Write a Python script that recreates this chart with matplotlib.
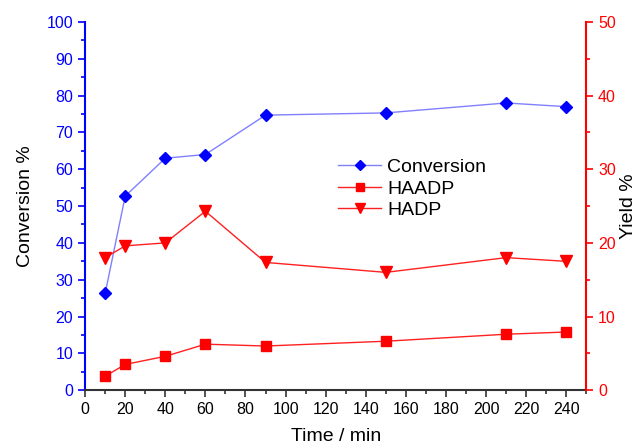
import matplotlib
matplotlib.use('Agg')
import matplotlib.pyplot as plt
from matplotlib.ticker import MultipleLocator

plt.rcParams['font.family'] = ['Liberation Sans', 'DejaVu Sans']

# data
time_min = [10, 20, 40, 60, 90, 150, 210, 240]
conversion = [26.3, 52.7, 63.0, 64.0, 74.7, 75.3, 78.0, 77.0]
haadp_yield = [1.9, 3.5, 4.6, 6.25, 6.0, 6.65, 7.6, 7.9]
hadp_yield = [18.0, 19.6, 20.0, 24.3, 17.35, 16.0, 18.0, 17.5]

fig = plt.figure(figsize=(6.4, 4.48), dpi=100)
ax = fig.add_axes([0.133, 0.129, 0.783, 0.822])
ax2 = ax.twinx()

l1, = ax.plot(time_min, conversion, color='#8080ff', lw=1.0,
              marker='D', markersize=6.5, markerfacecolor='#0000ff',
              markeredgecolor='#0000ff', label='Conversion', zorder=3)
l2, = ax2.plot(time_min, haadp_yield, color='#ff2020', lw=1.0,
               marker='s', markersize=6.5, markerfacecolor='#ff0000',
               markeredgecolor='#ff0000', label='HAADP')
l3, = ax2.plot(time_min, hadp_yield, color='#ff2020', lw=1.0,
               marker='v', markersize=8, markerfacecolor='#ff0000',
               markeredgecolor='#ff0000', label='HADP')

ax.set_xlim(0, 250)
ax.set_ylim(0, 100)
ax2.set_ylim(0, 50)

ax.xaxis.set_major_locator(MultipleLocator(20))
ax.xaxis.set_minor_locator(MultipleLocator(10))
ax.yaxis.set_major_locator(MultipleLocator(10))
ax.yaxis.set_minor_locator(MultipleLocator(5))
ax2.yaxis.set_major_locator(MultipleLocator(10))
ax2.yaxis.set_minor_locator(MultipleLocator(5))

# spines
for a in (ax, ax2):
    a.spines['top'].set_visible(False)
ax.spines['left'].set_color('#0000ff')
ax.spines['left'].set_linewidth(1.5)
ax.spines['bottom'].set_color('#333333')
ax.spines['bottom'].set_linewidth(1.5)
ax.spines['right'].set_visible(False)
ax2.spines['left'].set_visible(False)
ax2.spines['bottom'].set_visible(False)
ax2.spines['right'].set_color('#ff0000')
ax2.spines['right'].set_linewidth(1.5)

ax.tick_params(axis='y', which='both', colors='#0000ff', labelsize=11.5)
ax.tick_params(axis='y', which='major', length=5, width=1.2)
ax.tick_params(axis='y', which='minor', length=3, width=1.2)
ax.tick_params(axis='x', which='both', colors='#333333', labelcolor='black', labelsize=11.5)
ax.tick_params(axis='x', which='major', length=5, width=1.2)
ax.tick_params(axis='x', which='minor', length=3, width=1.2)
ax2.tick_params(axis='y', which='both', colors='#ff0000', labelsize=11.5)
ax2.tick_params(axis='y', which='major', length=5, width=1.2)
ax2.tick_params(axis='y', which='minor', length=3, width=1.2)

ax.set_xlabel('Time / min', fontsize=14, labelpad=8)
ax.set_ylabel('Conversion %', fontsize=14, labelpad=9)
ax2.set_ylabel('Yield %', fontsize=14, labelpad=3)

ax.legend(handles=[l1, l2, l3], loc='upper left',
          bbox_to_anchor=(0.49, 0.65), frameon=False, fontsize=14,
          handlelength=2.2, handletextpad=0.3, labelspacing=0.2,
          borderaxespad=0, markerscale=0.85)

fig.savefig('out.png', dpi=100)
